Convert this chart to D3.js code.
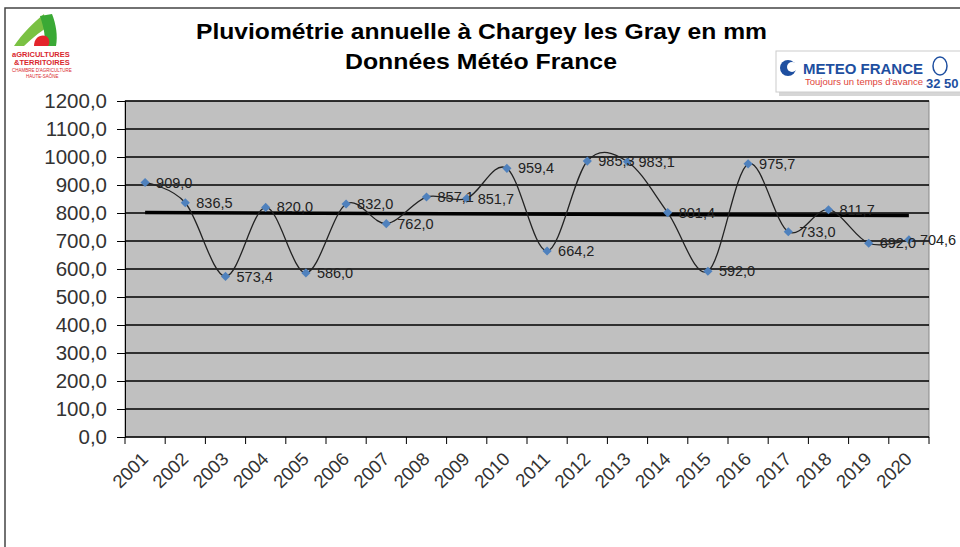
<!DOCTYPE html>
<html>
<head>
<meta charset="utf-8">
<script src="https://cdn.jsdelivr.net/npm/d3@7"></script>
<style>
  body { margin: 0; background: #fff; }
  text { font-family: "Liberation Sans", Arial, sans-serif; }
</style>
</head>
<body>
<svg id="chart" width="960" height="547"></svg>
<script>
// annual rainfall
var years = ["2001","2002","2003","2004","2005","2006","2007","2008","2009","2010",
             "2011","2012","2013","2014","2015","2016","2017","2018","2019","2020"];
var rainfall = [909.0, 836.5, 573.4, 820.0, 586.0, 832.0, 762.0, 857.1, 851.7, 959.4,
                664.2, 985.3, 983.1, 801.4, 592.0, 975.7, 733.0, 811.7, 692.0, 704.6];
var yTicks = [0,100,200,300,400,500,600,700,800,900,1000,1100,1200];

var svg = d3.select("#chart");
var pLeft = 125, pRight = 929, pTop = 101, pBottom = 437;

var fmt = function(v) { return d3.format(".1f")(v).replace(".", ","); };

// outer frame
svg.append("path").attr("d", "M5,547 L5,8 L960,8")
   .attr("fill", "none").attr("stroke", "#444").attr("stroke-width", 1.5);

// titles
svg.append("text").attr("x", 196).attr("y", 39)
   .attr("font-size", 22).attr("font-weight", "bold")
   .attr("textLength", 571).attr("lengthAdjust", "spacingAndGlyphs")
   .text("Pluviométrie annuelle à Chargey les Gray en mm");
svg.append("text").attr("x", 345).attr("y", 69)
   .attr("font-size", 22).attr("font-weight", "bold")
   .attr("textLength", 272).attr("lengthAdjust", "spacingAndGlyphs")
   .text("Données Météo France");

// scales
var x = d3.scaleBand().domain(years).range([pLeft, pRight]);
var y = d3.scaleLinear().domain([0, 1200]).range([pBottom, pTop]);

// plot background
svg.append("rect").attr("x", pLeft).attr("y", pTop)
   .attr("width", pRight - pLeft).attr("height", pBottom - pTop)
   .attr("fill", "#c0c0c0").attr("stroke", "#888").attr("stroke-width", 1);

// gridlines
svg.append("g").selectAll("line").data(yTicks.slice(1)).enter().append("line")
   .attr("x1", pLeft).attr("x2", pRight)
   .attr("y1", d => y(d)).attr("y2", d => y(d))
   .attr("stroke", "#000").attr("stroke-width", 1.3);

// y axis
var yAxis = svg.append("g").attr("transform", `translate(${pLeft},0)`)
   .call(d3.axisLeft(y).tickValues(yTicks).tickFormat(fmt).tickSize(8).tickPadding(10));
yAxis.selectAll("text").attr("font-size", 20.5).attr("fill", "#333")
   .attr("font-family", "Liberation Sans, Arial, sans-serif");
yAxis.selectAll("line, path").attr("stroke", "#000");

// x axis with ticks at band edges
var xAxis = svg.append("g").attr("transform", `translate(0,${pBottom})`);
xAxis.append("line").attr("x1", pLeft).attr("x2", pRight).attr("stroke", "#000").attr("stroke-width", 1.3);
var edges = years.map(d => x(d)).concat([pRight]);
xAxis.selectAll(".tk").data(edges).enter().append("line")
   .attr("x1", d => d).attr("x2", d => d).attr("y1", 0).attr("y2", 7)
   .attr("stroke", "#000");
xAxis.selectAll(".lbl").data(years).enter().append("text")
   .attr("transform", d => `translate(${x(d) + x.bandwidth() / 2 - 5},${14}) rotate(-45)`)
   .attr("text-anchor", "end").attr("dy", "0.7em")
   .attr("font-size", 18.5).attr("fill", "#333")
   .text(d => d);

// linear trend
var n = rainfall.length, idx = d3.range(n);
var mx = d3.mean(idx), my = d3.mean(rainfall);
var slope = d3.sum(idx, i => (i - mx) * (rainfall[i] - my)) / d3.sum(idx, i => (i - mx) * (i - mx));
var icpt = my - slope * mx;
svg.append("line")
   .attr("x1", x(years[0]) + x.bandwidth() / 2).attr("y1", y(icpt))
   .attr("x2", x(years[n - 1]) + x.bandwidth() / 2).attr("y2", y(icpt + slope * (n - 1)))
   .attr("stroke", "#000").attr("stroke-width", 3.5);

// smoothed series line
var pts = years.map((d, i) => [x(d) + x.bandwidth() / 2, y(rainfall[i])]);
svg.append("path").datum(pts)
   .attr("d", d3.line().curve(d3.curveCatmullRom.alpha(0)))
   .attr("fill", "none").attr("stroke", "#222").attr("stroke-width", 1.3);

// markers
svg.append("g").selectAll("path").data(pts).enter().append("path")
   .attr("d", d3.symbol(d3.symbolSquare, 42))
   .attr("transform", d => `translate(${d[0]},${d[1]}) rotate(45)`)
   .attr("fill", "#4f81bd");

// data labels
svg.append("g").selectAll("text").data(rainfall).enter().append("text")
   .attr("x", (d, i) => pts[i][0] + 11).attr("y", (d, i) => pts[i][1])
   .attr("dy", "0.35em").attr("font-size", 14.5).attr("fill", "#222")
   .text(fmt);

// logo: Agricultures & Territoires (approximation)
var agri = svg.append("g");
agri.append("path").attr("d", "M14,46 C22,34 34,22 44,14 L46,28 C40,32 30,40 24,46 Z").attr("fill", "#7ac143");
agri.append("path").attr("d", "M40,16 L52,14 C56,24 58,36 56,46 L44,46 C46,38 44,28 40,16 Z").attr("fill", "#3aa935");
agri.append("path").attr("d", "M34,46 C34,38 40,34 46,36 C50,38 50,44 48,46 Z").attr("fill", "#e3242b");
agri.append("text").attr("x", 12).attr("y", 57).attr("font-size", 7.5).attr("font-weight", "bold")
   .attr("fill", "#d9262e").text("aGRICULTURES");
agri.append("text").attr("x", 14).attr("y", 65).attr("font-size", 7.5).attr("font-weight", "bold")
   .attr("fill", "#d9262e").text("&TERRITOIRES");
agri.append("text").attr("x", 12).attr("y", 72).attr("font-size", 4.5)
   .attr("fill", "#d9262e").text("CHAMBRE D'AGRICULTURE");
agri.append("text").attr("x", 26).attr("y", 78).attr("font-size", 4.5)
   .attr("fill", "#d9262e").text("HAUTE-SAÔNE");

// logo: Météo France (approximation)
var mf = svg.append("g");
mf.append("rect").attr("x", 779).attr("y", 54).attr("width", 190).attr("height", 42).attr("fill", "#bbb").attr("opacity", 0.6);
mf.append("rect").attr("x", 776).attr("y", 51).attr("width", 190).attr("height", 41).attr("fill", "#fff").attr("stroke", "#ccc");
mf.append("circle").attr("cx", 788).attr("cy", 68).attr("r", 8).attr("fill", "#1e4fa0");
mf.append("circle").attr("cx", 792).attr("cy", 67).attr("r", 5).attr("fill", "#fff");
mf.append("text").attr("x", 803).attr("y", 74).attr("font-size", 15).attr("font-weight", "bold")
   .attr("fill", "#1e4fa0").text("METEO FRANCE");
mf.append("text").attr("x", 805).attr("y", 85).attr("font-size", 9.5)
   .attr("fill", "#e0443a").text("Toujours un temps d'avance");
mf.append("ellipse").attr("cx", 940).attr("cy", 66).attr("rx", 7).attr("ry", 9)
   .attr("fill", "none").attr("stroke", "#1e4fa0").attr("stroke-width", 1.5);
mf.append("text").attr("x", 926).attr("y", 88).attr("font-size", 13).attr("font-weight", "bold")
   .attr("fill", "#1e4fa0").text("32 50");
</script>
</body>
</html>
